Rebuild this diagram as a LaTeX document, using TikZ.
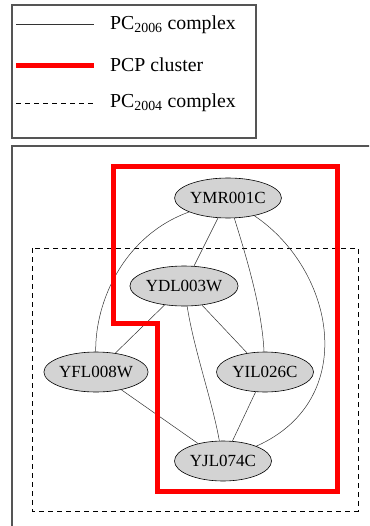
\documentclass[tikz,border=0pt]{standalone}
\usepackage{fontspec}
\setmainfont{Liberation Serif}
\usetikzlibrary{shapes.geometric}
\definecolor{pcpred}{RGB}{255,0,0}
\definecolor{framegray}{RGB}{85,85,85}
\definecolor{nodegray}{RGB}{211,211,211}
\begin{document}
\begin{tikzpicture}[x=1pt,y=-1pt,
  protein/.style={ellipse, draw=black, line width=0.6pt, fill=nodegray,
    minimum width=104pt, minimum height=40pt, inner sep=0pt,
    font=\fontsize{17}{17}\selectfont},
  edge/.style={line width=0.5pt, black!80},
  frame/.style={draw=framegray, line width=1.1pt},
  cluster/.style={draw=pcpred, line width=5pt, line join=miter},
  oldcomplex/.style={draw=black, line width=0.9pt, dash pattern=on 5pt off 4pt},
  legendtext/.style={anchor=west, inner sep=0pt, font=\fontsize{19.8}{19.8}\selectfont}]
\useasboundingbox (0,0) rectangle (369,526);
\clip (0,0) rectangle (369,526);

% legend
\draw[frame] (12,5) rectangle (256,138);
\coordinate (l1a) at (16,24);  \coordinate (l1b) at (94,24);
\coordinate (l2a) at (16,66);  \coordinate (l2b) at (94,66);
\coordinate (l3a) at (16,103); \coordinate (l3b) at (94,103);
\draw[edge, line width=0.7pt] (l1a) -- (l1b);
\draw[cluster, line cap=butt] (l2a) -- (l2b);
\draw[oldcomplex] (l3a) -- (l3b);
\node[legendtext] (t1) at (110,25) {PC\textsubscript{2006} complex};
\node[legendtext] (t2) at (110,65) {PCP cluster};
\node[legendtext] (t3) at (110,103) {PC\textsubscript{2004} complex};

% network panel frame
\draw[frame] (12,540) -- (12,146) -- (380,146);

% PC2004 complex region
\draw[oldcomplex] (32,248) rectangle (358,511);

% proteins
\node[protein] (ymr) at (228,198) {YMR001C};
\node[protein] (ydl) at (184,286) {YDL003W};
\node[protein] (yfl) at (96,372) {YFL008W};
\node[protein, minimum width=97pt] (yil) at (265,372) {YIL026C};
\node[protein, minimum width=97pt] (yjl) at (223,461) {YJL074C};

% interactions
\draw[edge] (ymr) .. controls (125,235) and (95,300) .. (yfl);
\draw[edge] (ymr) -- (ydl);
\draw[edge] (ymr) .. controls (248,262) and (262,310) .. (yil);
\draw[edge] (ymr) .. controls (335,270) and (360,400) .. (yjl);
\draw[edge] (ydl) -- (yfl);
\draw[edge] (ydl) -- (yil);
\draw[edge] (ydl) .. controls (194,350) and (212,400) .. (yjl);
\draw[edge] (yfl) -- (yjl);
\draw[edge] (yil) -- (yjl);

% PCP cluster outline
\draw[cluster] (113,167) -- (337,167) -- (337,491) -- (157,491)
  -- (157,323) -- (113,323) -- cycle;
\end{tikzpicture}
\end{document}
